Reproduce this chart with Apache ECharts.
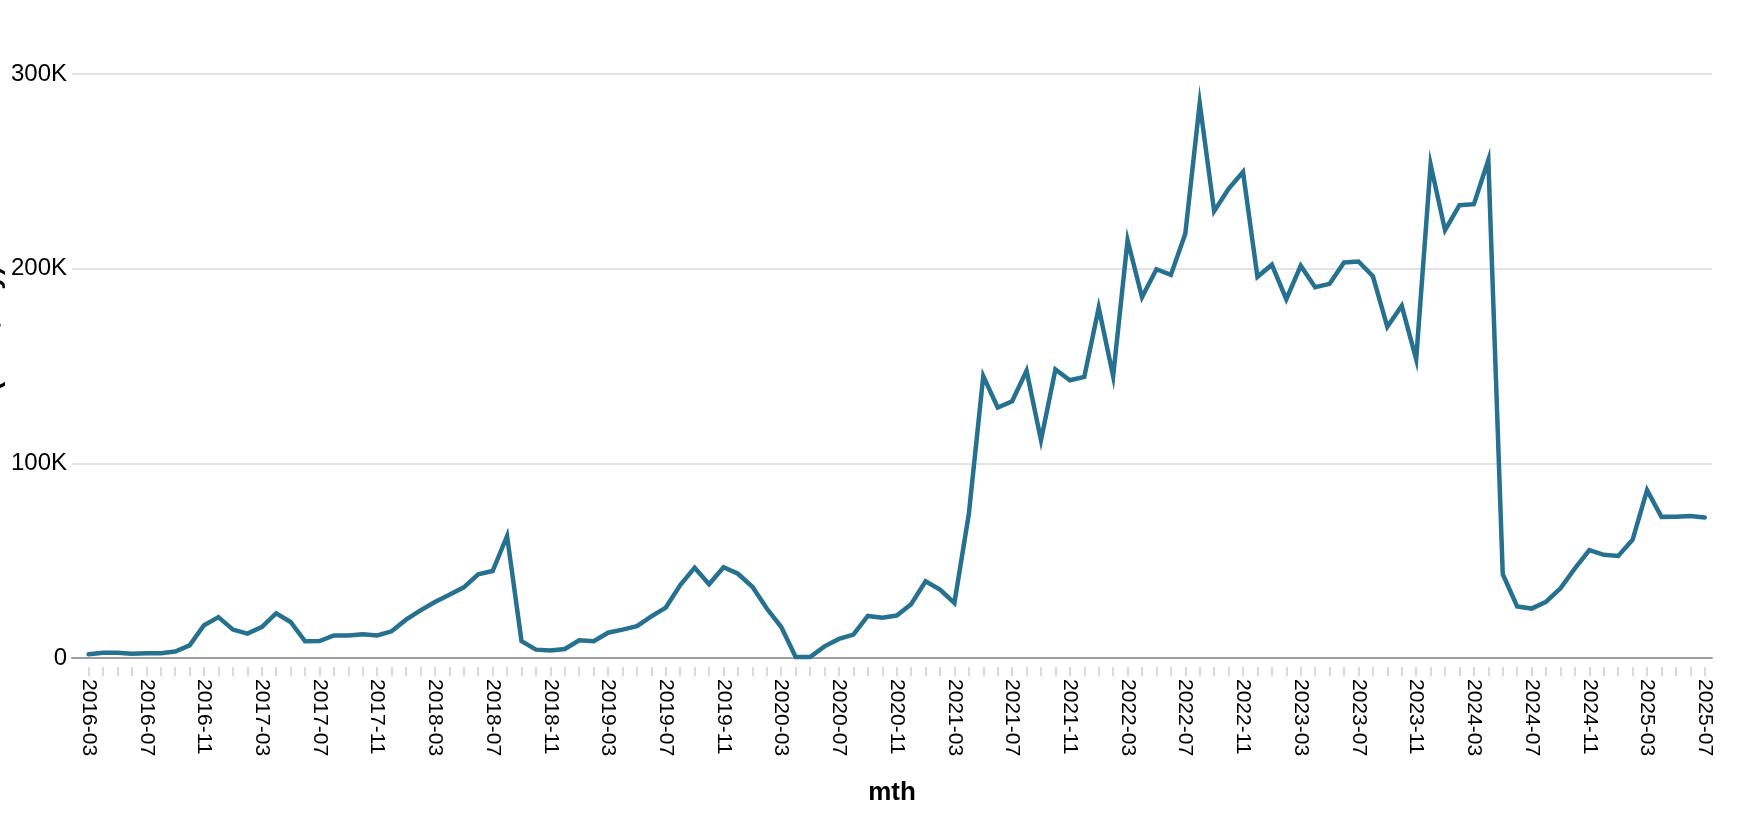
<!DOCTYPE html>
<html>
  <head>
    <meta charset="utf-8" />
    <title>mth</title>
    <script src="https://cdn.jsdelivr.net/npm/echarts@6/dist/echarts.min.js"></script>
    <style>
      html, body { margin: 0; padding: 0; background: #fff; }
      #main { width: 1764px; height: 820px; }
    </style>
  </head>
  <body>
    <div id="main"></div>
    <script type="text/javascript">
      // months on the x axis
      var months = [
        '2016-03','2016-04','2016-05','2016-06','2016-07','2016-08','2016-09','2016-10','2016-11','2016-12',
        '2017-01','2017-02','2017-03','2017-04','2017-05','2017-06','2017-07','2017-08','2017-09','2017-10','2017-11','2017-12',
        '2018-01','2018-02','2018-03','2018-04','2018-05','2018-06','2018-07','2018-08','2018-09','2018-10','2018-11','2018-12',
        '2019-01','2019-02','2019-03','2019-04','2019-05','2019-06','2019-07','2019-08','2019-09','2019-10','2019-11','2019-12',
        '2020-01','2020-02','2020-03','2020-04','2020-05','2020-06','2020-07','2020-08','2020-09','2020-10','2020-11','2020-12',
        '2021-01','2021-02','2021-03','2021-04','2021-05','2021-06','2021-07','2021-08','2021-09','2021-10','2021-11','2021-12',
        '2022-01','2022-02','2022-03','2022-04','2022-05','2022-06','2022-07','2022-08','2022-09','2022-10','2022-11','2022-12',
        '2023-01','2023-02','2023-03','2023-04','2023-05','2023-06','2023-07','2023-08','2023-09','2023-10','2023-11','2023-12',
        '2024-01','2024-02','2024-03','2024-04','2024-05','2024-06','2024-07','2024-08','2024-09','2024-10','2024-11','2024-12',
        '2025-01','2025-02','2025-03','2025-04','2025-05','2025-06','2025-07'
      ];

      // monthly values
      var volume = [
        1900, 2700, 2700, 2200, 2400, 2400, 3300, 6500, 16800, 21000,
        14600, 12500, 15900, 23000, 18500, 8600, 8700, 11600, 11600, 12200, 11600, 13700,
        19700, 24500, 28800, 32500, 36300, 43000, 44700, 62700, 8700, 4300, 3900, 4600,
        9100, 8600, 13000, 14600, 16400, 21400, 25900, 37500, 46400, 37900, 46600, 43300,
        36600, 25400, 15900, 500, 500, 6000, 9800, 12000, 21600, 20700, 21800, 27600,
        39400, 35100, 28300, 74000, 144800, 128700, 131900, 147500, 111900, 148200, 142700, 144400,
        179900, 144800, 214600, 185300, 199700, 196800, 218000, 285000, 229500, 241000, 249700, 195800,
        202000, 184300, 201500, 190500, 192200, 203200, 203700, 196100, 170100, 180900, 153500, 253500,
        219800, 232600, 233100, 255800, 43000, 26500, 25400, 28900, 35800, 46000, 55400, 53000,
        52400, 60800, 86200, 72500, 72600, 73000, 72200
      ];

      var yTicks = [0, 100000, 200000, 300000];

      var font = 'Liberation Sans, Arial, Helvetica, sans-serif';

      var tickIdx = [];
      var labelIdx = [];
      for (let i = 0; i < months.length; i++) {
        tickIdx.push(i);
        if (i % 4 === 0) labelIdx.push(i);
      }

      var myChart = echarts.init(document.getElementById('main'));
      var option = {
        animation: false,
        grid: {
          left: 72, right: 52, top: 74, bottom: 162,
          containLabel: false,
          outerBoundsMode: 'none'
        },
        xAxis: [
          {
            type: 'value',
            min: -1.15,
            max: 112.5,
            name: 'mth',
            nameLocation: 'middle',
            nameGap: 122,
            nameMoveOverlap: false,
            nameTextStyle: { fontFamily: font, fontSize: 26, fontWeight: 'bold', color: '#000' },
            axisLine: { show: true, lineStyle: { color: '#9e9e9e', width: 2 } },
            axisTick: { show: false },
            axisLabel: { show: false },
            splitLine: { show: false }
          },
          {
            // ticks and month labels sit a little below the domain line
            type: 'value',
            position: 'bottom',
            offset: 9,
            min: -1.15,
            max: 112.5,
            axisLine: { show: false },
            axisTick: {
              show: true,
              length: 9,
              customValues: tickIdx,
              lineStyle: { color: '#d9d9d9', width: 2 }
            },
            axisLabel: {
              show: true,
              customValues: labelIdx,
              rotate: -90,
              margin: 12,
              fontFamily: font,
              fontSize: 21,
              color: '#000',
              formatter: function (v) { return months[Math.round(v)]; }
            },
            splitLine: { show: false }
          }
        ],
        yAxis: {
          type: 'value',
          min: 0,
          max: 300000,
          interval: 100000,
          name: 'Value (USD/day)',
          nameLocation: 'middle',
          nameRotate: 90,
          nameGap: 66,
          nameMoveOverlap: false,
          nameTextStyle: {
            fontFamily: font, fontSize: 26, fontWeight: 'bold', color: '#000',
            verticalAlign: 'bottom'
          },
          axisLine: { show: false },
          axisTick: { show: false },
          axisLabel: {
            margin: 5,
            fontFamily: font,
            fontSize: 24,
            color: '#000',
            customValues: yTicks,
            formatter: function (v) { return v === 0 ? '0' : (v / 1000) + 'K'; }
          },
          splitLine: { show: true, lineStyle: { color: '#e3e3e3', width: 2 } }
        },
        series: [{
          type: 'line',
          xAxisIndex: 0,
          showSymbol: false,
          symbol: 'none',
          data: volume.map(function (v, i) { return [i, v]; }),
          lineStyle: { color: '#25718f', width: 4.5, join: 'miter', cap: 'round' },
          z: 3
        }]
      };
      myChart.setOption(option);
    </script>
  </body>
</html>
